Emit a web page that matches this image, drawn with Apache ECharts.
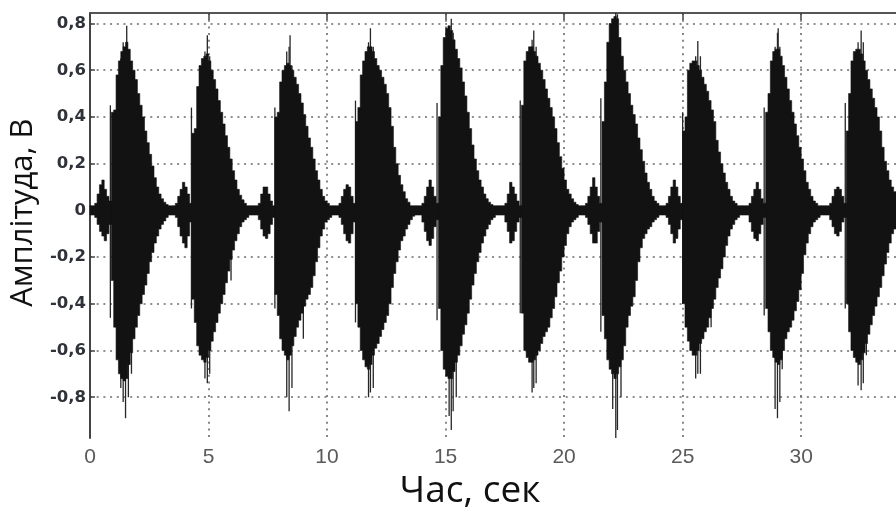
<!DOCTYPE html>
<html>
<head>
<meta charset="utf-8">
<script src="https://cdn.jsdelivr.net/npm/echarts@6/dist/echarts.min.js"></script>
<style>
html,body{margin:0;padding:0;background:#fff;}
#chart{width:896px;height:515px;}
</style>
</head>
<body>
<div id="chart"></div>
<script>
// ---- data ----
const sampleStep = 0.1; // seconds per envelope sample
const leadUpper = [0.02, 0.02, 0.03, 0.07, 0.11, 0.13, 0.09, 0.06, 0.04];
const leadLower = [-0.02, -0.02, -0.03, -0.06, -0.09, -0.11, -0.13, -0.10, -0.06];
const burstOnsets = [0.9, 4.3, 7.8, 11.2, 14.7, 18.2, 21.6, 25.0, 28.5, 31.9];
const burstUpper = [
  [0.42,0.43,0.58,0.64,0.68,0.70,0.72,0.69,0.64,0.60, 0.56,0.50,0.45,0.40,0.34,0.29,0.24,0.19,0.14,0.10, 0.07,0.05,0.035,0.025,0.02,0.02,0.02,0.03,0.06,0.09, 0.12,0.10,0.07,0.03],
  [0.33,0.35,0.53,0.62,0.65,0.66,0.67,0.64,0.60,0.56, 0.52,0.47,0.42,0.37,0.32,0.27,0.22,0.17,0.13,0.09, 0.065,0.045,0.03,0.02,0.02,0.02,0.02,0.02,0.03,0.07, 0.10,0.10,0.07,0.04,0.02],
  [0.40,0.42,0.55,0.60,0.62,0.63,0.62,0.60,0.57,0.54, 0.50,0.46,0.41,0.36,0.31,0.27,0.22,0.17,0.13,0.09, 0.06,0.04,0.03,0.02,0.02,0.02,0.02,0.03,0.06,0.09, 0.11,0.10,0.06,0.03],
  [0.38,0.44,0.58,0.64,0.68,0.70,0.70,0.68,0.65,0.62, 0.60,0.57,0.54,0.50,0.44,0.36,0.27,0.20,0.15,0.11, 0.08,0.05,0.035,0.02,0.02,0.02,0.02,0.02,0.03,0.06, 0.10,0.13,0.10,0.06,0.03],
  [0.40,0.62,0.74,0.78,0.79,0.77,0.73,0.69,0.65,0.61, 0.55,0.49,0.42,0.35,0.28,0.22,0.17,0.13,0.10,0.07, 0.05,0.035,0.025,0.02,0.02,0.02,0.02,0.02,0.03,0.07, 0.12,0.10,0.07,0.04,0.02],
  [0.45,0.64,0.68,0.70,0.70,0.68,0.66,0.63,0.60,0.56, 0.52,0.48,0.44,0.40,0.35,0.29,0.23,0.18,0.13,0.09, 0.07,0.05,0.035,0.025,0.02,0.02,0.02,0.03,0.06,0.10, 0.14,0.10,0.06,0.03],
  [0.38,0.55,0.72,0.80,0.82,0.83,0.82,0.74,0.66,0.60, 0.55,0.50,0.45,0.41,0.37,0.31,0.26,0.21,0.16,0.12, 0.09,0.06,0.04,0.03,0.02,0.02,0.02,0.03,0.06,0.10, 0.13,0.10,0.06,0.03],
  [0.34,0.40,0.60,0.63,0.64,0.64,0.62,0.60,0.57,0.54, 0.51,0.47,0.43,0.38,0.30,0.25,0.20,0.16,0.12,0.09, 0.06,0.04,0.03,0.02,0.02,0.02,0.02,0.02,0.03,0.06, 0.09,0.12,0.09,0.05,0.03],
  [0.42,0.50,0.64,0.68,0.69,0.69,0.66,0.62,0.57,0.52, 0.47,0.42,0.37,0.32,0.27,0.22,0.17,0.12,0.09,0.06, 0.04,0.03,0.02,0.02,0.02,0.02,0.02,0.03,0.06,0.09, 0.10,0.09,0.06,0.03],
  [0.34,0.50,0.64,0.68,0.69,0.69,0.67,0.64,0.60,0.56, 0.52,0.48,0.44,0.40,0.34,0.27,0.21,0.17,0.13,0.10, 0.08,0.06]
];
const burstLower = [
  [-0.30,-0.50,-0.64,-0.70,-0.72,-0.73,-0.72,-0.66,-0.61,-0.55, -0.50,-0.45,-0.40,-0.36,-0.32,-0.27,-0.22,-0.18,-0.14,-0.11, -0.08,-0.06,-0.045,-0.03,-0.02,-0.02,-0.02,-0.03,-0.07,-0.11, -0.14,-0.16,-0.11,-0.05],
  [-0.38,-0.48,-0.58,-0.62,-0.64,-0.65,-0.63,-0.60,-0.56,-0.52, -0.48,-0.44,-0.40,-0.36,-0.31,-0.26,-0.21,-0.17,-0.13,-0.10, -0.07,-0.05,-0.04,-0.03,-0.02,-0.02,-0.02,-0.02,-0.04,-0.08, -0.11,-0.12,-0.10,-0.06,-0.03],
  [-0.36,-0.45,-0.55,-0.60,-0.62,-0.64,-0.62,-0.58,-0.54,-0.50, -0.47,-0.44,-0.41,-0.38,-0.36,-0.33,-0.28,-0.22,-0.16,-0.11, -0.08,-0.05,-0.04,-0.03,-0.02,-0.02,-0.02,-0.03,-0.06,-0.10, -0.13,-0.14,-0.10,-0.05],
  [-0.40,-0.50,-0.60,-0.64,-0.67,-0.68,-0.66,-0.62,-0.59,-0.57, -0.54,-0.51,-0.48,-0.45,-0.40,-0.33,-0.27,-0.22,-0.17,-0.13, -0.11,-0.08,-0.06,-0.04,-0.025,-0.02,-0.02,-0.02,-0.05,-0.09, -0.13,-0.15,-0.12,-0.07,-0.04],
  [-0.42,-0.60,-0.68,-0.71,-0.72,-0.72,-0.69,-0.65,-0.62,-0.58, -0.53,-0.49,-0.44,-0.38,-0.32,-0.27,-0.22,-0.18,-0.14,-0.11, -0.08,-0.06,-0.04,-0.03,-0.02,-0.02,-0.02,-0.02,-0.05,-0.09, -0.14,-0.13,-0.09,-0.05,-0.03],
  [-0.44,-0.60,-0.63,-0.65,-0.65,-0.64,-0.62,-0.60,-0.57,-0.54, -0.52,-0.50,-0.46,-0.42,-0.37,-0.31,-0.26,-0.20,-0.15,-0.10, -0.07,-0.05,-0.04,-0.03,-0.02,-0.02,-0.02,-0.03,-0.06,-0.10, -0.14,-0.14,-0.09,-0.05],
  [-0.45,-0.55,-0.64,-0.68,-0.70,-0.72,-0.70,-0.67,-0.64,-0.58, -0.50,-0.45,-0.41,-0.37,-0.30,-0.22,-0.16,-0.12,-0.10,-0.08, -0.07,-0.05,-0.04,-0.03,-0.02,-0.02,-0.02,-0.03,-0.06,-0.10, -0.14,-0.12,-0.08,-0.04],
  [-0.40,-0.50,-0.56,-0.60,-0.62,-0.62,-0.60,-0.57,-0.55,-0.52, -0.50,-0.46,-0.42,-0.38,-0.33,-0.29,-0.25,-0.20,-0.15,-0.11, -0.08,-0.06,-0.04,-0.03,-0.02,-0.02,-0.02,-0.02,-0.05,-0.09, -0.12,-0.13,-0.10,-0.06,-0.03],
  [-0.42,-0.52,-0.60,-0.63,-0.65,-0.66,-0.64,-0.60,-0.55,-0.52, -0.50,-0.47,-0.43,-0.39,-0.34,-0.27,-0.19,-0.14,-0.10,-0.07, -0.05,-0.04,-0.03,-0.02,-0.02,-0.02,-0.02,-0.04,-0.07,-0.10, -0.11,-0.09,-0.05,-0.03],
  [-0.40,-0.52,-0.60,-0.63,-0.65,-0.66,-0.64,-0.61,-0.57,-0.53, -0.49,-0.45,-0.41,-0.37,-0.33,-0.28,-0.23,-0.18,-0.14,-0.10, -0.08,-0.06]
];
const spikeTimes = [0.86,1.30,1.40,1.50,1.55,1.62,1.75, 4.28,4.85,4.95,5.05,5.95, 7.80,8.30,8.40,8.44,8.52,9.00, 11.20,11.75,11.83,11.95,12.50, 14.64,15.15,15.24,15.32,15.45, 18.15,18.65,18.72,18.82, 21.55,22.05,22.18,22.25,22.40, 25.00,25.55,25.64,25.75,26.20, 28.44,28.90,29.00,29.03,29.10,29.20, 31.86,32.40,32.53,32.62,32.75];
const spikeHigh = [0.45,0.65,0.72,0.60,0.79,0,0.62, 0.44,0.68,0.75,0.66,0, 0.44,0.68,0.70,0.75,0.62,0, 0.47,0.72,0.78,0.70,0.45, 0.46,0.74,0.82,0.76,0, 0.47,0.73,0.77,0.70, 0.48,0.80,0.85,0.84,0.66, 0.42,0.66,0.725,0.66,0.40, 0.44,0.70,0.76,0.78,0.70,0, 0.46,0.72,0.77,0.72,0.50];
const spikeLow = [-0.46,-0.76,-0.82,-0.89,0,-0.80,-0.70, -0.42,-0.72,-0.74,-0.70,-0.30, -0.42,-0.80,-0.86,0,-0.76,-0.55, -0.48,-0.80,-0.78,-0.76,-0.30, -0.47,-0.88,-0.94,-0.86,-0.80, -0.44,-0.78,-0.76,-0.74, -0.52,-0.85,-0.98,-0.94,-0.80, -0.40,-0.72,-0.70,-0.70,-0.50, -0.45,-0.85,-0.89,0,-0.82,-0.68, -0.42,-0.75,-0.77,-0.74,-0.62];
const xTickValues = [0, 5, 10, 15, 20, 25, 30];
const yTickValues = [-0.8, -0.6, -0.4, -0.2, 0, 0.2, 0.4, 0.6, 0.8];

// ---- segments of the envelope: the lead-in, then one per burst ----
const segStart = [0].concat(burstOnsets);
const segUpper = [leadUpper].concat(burstUpper);
const segLower = [leadLower].concat(burstLower);
const segData = segStart.map((t0, i) => [t0, Math.round((t0 + segUpper[i].length * sampleStep) * 100) / 100, i]);
const spikes = spikeTimes.map((t, i) => [t, spikeLow[i], spikeHigh[i]]);

const ink = '#121212';
const chart = echarts.init(document.getElementById('chart'), null, {renderer: 'canvas'});
const gridDots = {type: [2, 4.7], color: '#6a6a6a', width: 1.6};
chart.setOption({
  animation: false,
  backgroundColor: '#ffffff',
  grid: {left: 88, right: 0, top: 13, bottom: 67},
  xAxis: [{
    type: 'value', min: 0, max: 34, position: 'bottom',
    name: 'Час, сек', nameLocation: 'middle', nameGap: 21,
    nameTextStyle: {fontFamily: 'Open Sans', fontSize: 37, color: '#111', padding: [0, 46, 0, 0]},
    axisLine: {show: true, lineStyle: {color: '#444', width: 2}},
    axisTick: {show: true, inside: true, length: 6, customValues: xTickValues, lineStyle: {color: '#444', width: 1.5}},
    axisLabel: {customValues: xTickValues, color: '#5a5a5a', fontFamily: 'Liberation Sans', fontSize: 21, margin: 9,
      formatter: v => String(v)},
    splitLine: {show: true, lineStyle: gridDots}
  }, {
    type: 'value', min: 0, max: 34, position: 'top',
    axisLine: {show: true, lineStyle: {color: '#555', width: 1.8}},
    axisTick: {show: true, inside: true, length: 7, customValues: xTickValues, lineStyle: {color: '#444', width: 1.5}},
    axisLabel: {show: false},
    splitLine: {show: false}
  }],
  yAxis: {
    type: 'value', min: -0.975, max: 0.845,
    name: 'Амплітуда, В', nameLocation: 'middle', nameGap: 50,
    nameTextStyle: {fontFamily: 'Open Sans', fontSize: 31, color: '#111', padding: [0, 0, 0, 26]},
    axisLine: {show: true, lineStyle: {color: '#444', width: 2}},
    axisTick: {show: true, inside: true, length: 5, customValues: yTickValues, lineStyle: {color: '#444', width: 1.5}},
    axisLabel: {customValues: yTickValues, color: '#2f3239', fontFamily: 'DejaVu Sans', fontWeight: 'bold', fontSize: 16.5, margin: 4,
      formatter: v => (Math.abs(v) < 1e-9 ? '0' : v.toFixed(1).replace('.', ','))},
    splitLine: {show: true, lineStyle: gridDots}
  },
  series: [{
    type: 'custom', name: 'spikes', clip: true, z: 2,
    encode: {x: 0, y: [1, 2]},
    data: spikes,
    renderItem: function (params, api) {
      const t = api.value(0);
      const a = api.coord([t, api.value(2)]);
      const b = api.coord([t, api.value(1)]);
      return {type: 'line', shape: {x1: a[0], y1: a[1], x2: b[0], y2: b[1]},
        style: {stroke: '#262626', lineWidth: 1.3}};
    }
  }, {
    type: 'custom', name: 'envelope', clip: true, z: 3,
    encode: {x: [0, 1]},
    data: segData,
    renderItem: function (params, api) {
      const i = api.value(2), t0 = api.value(0);
      const up = segUpper[i], lo = segLower[i], n = up.length;
      const pts = [];
      for (let k = 0; k < n; k++) {
        const ta = t0 + k * sampleStep;
        const tb = ta + sampleStep + (k === n - 1 ? 0.03 : 0);
        pts.push(api.coord([ta, up[k]]), api.coord([tb, up[k]]));
      }
      for (let k = n - 1; k >= 0; k--) {
        const ta = t0 + k * sampleStep;
        const tb = ta + sampleStep + (k === n - 1 ? 0.03 : 0);
        pts.push(api.coord([tb, lo[k]]), api.coord([ta, lo[k]]));
      }
      return {type: 'polygon', shape: {points: pts}, style: {fill: ink, stroke: ink, lineWidth: 0.6}};
    }
  }]
});
</script>
</body>
</html>
